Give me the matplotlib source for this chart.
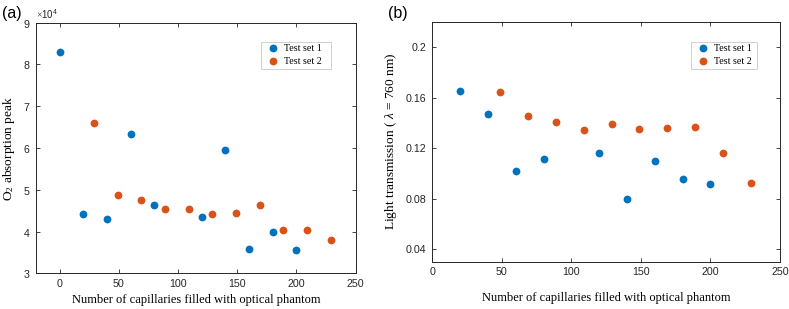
import matplotlib
matplotlib.use("Agg")
import matplotlib.pyplot as plt

# ---- data ----
x1_a = [0, 20, 40, 60, 80, 120, 140, 160, 180, 200]
y1_a = [83100, 44300, 43000, 63300, 46400, 43500, 59600, 35900, 39900, 35500]
x2_a = [29, 49, 69, 89, 109, 129, 149, 169, 189, 209, 229]
y2_a = [65900, 48700, 47500, 45400, 45500, 44200, 44400, 46300, 40400, 40300, 38000]

x1_b = [20, 40, 60, 80, 120, 140, 160, 180, 200]
y1_b = [0.165, 0.147, 0.102, 0.111, 0.116, 0.0795, 0.110, 0.0956, 0.0914]
x2_b = [49, 69, 89, 109, 129, 149, 169, 189, 209, 229]
y2_b = [0.1644, 0.1452, 0.141, 0.134, 0.1388, 0.1354, 0.1359, 0.1365, 0.1161, 0.092]

xticks = [0, 50, 100, 150, 200, 250]
yticks_a = [30000, 40000, 50000, 60000, 70000, 80000, 90000]
yticks_b = [0.04, 0.08, 0.12, 0.16, 0.2]
yticklabels_b = ["0.04", "0.08", "0.12", "0.16", "0.2"]
series_names = ["Test set 1", "Test set 2"]

BLUE = "#0072BD"
ORANGE = "#D95319"
DARK = "#262626"
SANS = "Liberation Sans"
SERIF = "Liberation Serif"

plt.rcParams["font.family"] = SANS
plt.rcParams["mathtext.fontset"] = "custom"
plt.rcParams["mathtext.rm"] = SERIF
plt.rcParams["mathtext.it"] = SERIF + ":italic"

fig = plt.figure(figsize=(7.89, 3.09), dpi=100)
axA = fig.add_axes([0.0456, 0.1155, 0.4052, 0.811])
axB = fig.add_axes([0.5479, 0.153, 0.4406, 0.7767])

ms = 4.6
tick_fs = 7.7
xlabel_fs = 9
ylabel_fs = 9.6


def style(ax):
    for s in ax.spines.values():
        s.set_color(DARK)
        s.set_linewidth(0.7)
    ax.tick_params(direction="in", length=3, width=0.6, colors=DARK,
                   labelsize=tick_fs, top=True, right=True, pad=4)


def add_legend(ax, box):
    leg = ax.legend(loc="upper left", bbox_to_anchor=box, mode="expand",
                    prop={"family": SERIF, "size": 7.2},
                    frameon=True, fancybox=False, edgecolor="#BBBBBB",
                    handletextpad=0.1, borderpad=0.25, handlelength=2.0,
                    labelspacing=0.4, borderaxespad=0)
    leg.get_frame().set_linewidth(0.6)
    return leg


# ---- (a) ----
axA.plot(x1_a, y1_a, "o", color=BLUE, ms=ms, label=series_names[0])
axA.plot(x2_a, y2_a, "o", color=ORANGE, ms=ms, label=series_names[1])
axA.set_xlim(-20, 250)
axA.set_ylim(30000, 90000)
axA.set_xticks(xticks)
axA.set_yticks(yticks_a)
axA.ticklabel_format(axis="y", style="sci", scilimits=(4, 4), useMathText=True)
style(axA)
axA.yaxis.get_offset_text().set_fontsize(7)
axA.yaxis.get_offset_text().set_color(DARK)
axA.set_xlabel("Number of capillaries filled with optical phantom",
               family=SERIF, fontsize=xlabel_fs, labelpad=4)
axA.set_ylabel(r"O$_2$ absorption peak", family=SERIF, fontsize=ylabel_fs, labelpad=4)
add_legend(axA, (0.703, 0.924 - 0.11, 0.22, 0.11))

# ---- (b) ----
axB.plot(x1_b, y1_b, "o", color=BLUE, ms=ms, label=series_names[0])
axB.plot(x2_b, y2_b, "o", color=ORANGE, ms=ms, label=series_names[1])
axB.set_xlim(0, 250)
axB.set_ylim(0.03, 0.22)
axB.set_xticks(xticks)
axB.set_yticks(yticks_b)
axB.set_yticklabels(yticklabels_b)
style(axB)
axB.set_xlabel("Number of capillaries filled with optical phantom",
               family=SERIF, fontsize=xlabel_fs, labelpad=10.5)
axB.set_ylabel(r"Light transmission ( $\lambda$ = 760 nm)", family=SERIF,
               fontsize=ylabel_fs, labelpad=5)
add_legend(axB, (0.743, 0.917 - 0.115, 0.19, 0.115))

fig.text(0.002, 0.955, "(a)", fontsize=11.5, family=SANS, va="center", ha="left")
fig.text(0.492, 0.955, "(b)", fontsize=11.5, family=SANS, va="center", ha="left")

fig.savefig("out.png", dpi=100)
